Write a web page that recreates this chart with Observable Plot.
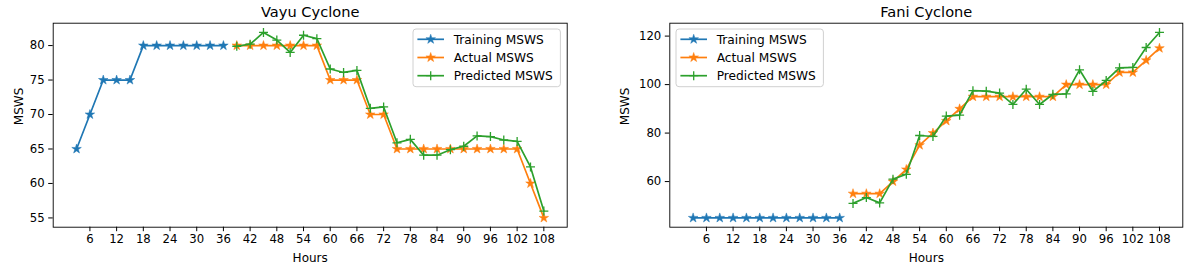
<!DOCTYPE html>
<html><head><meta charset="utf-8">
<script src="https://cdn.jsdelivr.net/npm/d3@7"></script>
<script src="https://cdn.jsdelivr.net/npm/@observablehq/plot@0.6"></script>
<style>
body{margin:0;background:#fff;}
#wrap{position:relative;width:1196px;height:270px;font-family:"DejaVu Sans",sans-serif;}
#wrap > svg{position:absolute;top:0;}
</style></head><body><div id="wrap"></div><script>
// ---- data ----
const hoursTrain = [3,6,9,12,15,18,21,24,27,30,33,36];
const hoursTest = [39,42,45,48,51,54,57,60,63,66,69,72,75,78,81,84,87,90,93,96,99,102,105,108];

const vayuTraining = [65,70,75,75,75,80,80,80,80,80,80,80];
const vayuActual = [80,80,80,80,80,80,80,75,75,75,70,70,65,65,65,65,65,65,65,65,65,65,60,55];
const vayuPredicted = [79.9,80.2,81.9,80.8,79.0,81.5,81.0,76.6,76.1,76.4,70.9,71.1,65.9,66.4,64.1,64.1,64.9,65.4,66.9,66.8,66.3,66.1,62.4,56.0];

const faniTraining = [45,45,45,45,45,45,45,45,45,45,45,45];
const faniActual = [55,55,55,60,65,75,80,85,90,95,95,95,95,95,95,95,100,100,100,100,105,105,110,115];
const faniPredicted = [51.0,53.4,51.2,61.0,63.0,79.0,78.6,87.0,87.4,97.5,97.3,96.5,91.8,98.1,91.8,96.0,96.2,106.1,97.2,101.7,106.9,107.1,115.3,121.5];

const xTicks = [6,12,18,24,30,36,42,48,54,60,66,72,78,84,90,96,102,108];
const vayuYTicks = [55,60,65,70,75,80];
const faniYTicks = [60,80,100,120];

const seriesNames = ["Training MSWS","Actual MSWS","Predicted MSWS"];
const seriesColors = ["#1f77b4","#ff7f0e","#2ca02c"];
const seriesSymbols = ["star","star","plus"];

// thin matplotlib-like "+" marker
const thinPlus = {
  draw(context, size) {
    const r = Math.sqrt(size / Math.PI);
    context.moveTo(-r, 0); context.lineTo(r, 0);
    context.moveTo(0, -r); context.lineTo(0, r);
  }
};

function padDomain(vals) {
  const [a, b] = d3.extent(vals);
  const m = (b - a) * 0.05;
  return [a - m, b + m];
}

function panel({title, train, actual, pred, yTicks, width, ml, mr, ylabDx}) {
  const trainData = hoursTrain.map((h, i) => ({h, v: train[i]}));
  const actualData = hoursTest.map((h, i) => ({h, v: actual[i]}));
  const predData = hoursTest.map((h, i) => ({h, v: pred[i]}));
  const xDomain = padDomain(hoursTrain.concat(hoursTest));
  const yDomain = padDomain(train.concat(actual, pred));
  return Plot.plot({
    width, height: 270,
    marginLeft: ml, marginRight: mr, marginTop: 22.7, marginBottom: 43.3,
    style: {fontFamily: "DejaVu Sans", fontSize: "11.7px", color: "#000", background: "transparent"},
    x: {domain: xDomain},
    y: {domain: yDomain},
    marks: [
      Plot.axisX({ticks: xTicks, tickSize: 4.5, tickPadding: 3, label: null}),
      Plot.axisY({ticks: yTicks, tickSize: 4.5, tickPadding: 4, label: null}),
      Plot.line(trainData, {x: "h", y: "v", stroke: seriesColors[0], strokeWidth: 1.7}),
      Plot.dot(trainData, {x: "h", y: "v", symbol: "star", r: 3, fill: seriesColors[0], stroke: seriesColors[0], strokeWidth: 0.5}),
      Plot.line(actualData, {x: "h", y: "v", stroke: seriesColors[1], strokeWidth: 1.7}),
      Plot.dot(actualData, {x: "h", y: "v", symbol: "star", r: 3, fill: seriesColors[1], stroke: seriesColors[1], strokeWidth: 0.5}),
      Plot.line(predData, {x: "h", y: "v", stroke: seriesColors[2], strokeWidth: 1.7}),
      Plot.dot(predData, {x: "h", y: "v", symbol: thinPlus, r: 4.5, fill: "none", stroke: seriesColors[2], strokeWidth: 1.3}),
      Plot.frame({stroke: "#000", strokeWidth: 0.9}),
      Plot.text([title], {frameAnchor: "top", lineAnchor: "middle", dy: -10.9, fontSize: 14.6}),
      Plot.text(["Hours"], {frameAnchor: "bottom", lineAnchor: "middle", dy: 30.6, fontSize: 12}),
      Plot.text(["MSWS"], {frameAnchor: "left", rotate: -90, dx: ylabDx, fontSize: 12})
    ]
  });
}

function legend(left, top) {
  const w = 147.4, h = 57.7;
  const svg = d3.create("svg").attr("width", w + 2).attr("height", h + 2)
    .style("left", (left - 1) + "px").style("top", (top - 1) + "px");
  svg.append("rect").attr("x", 1).attr("y", 1).attr("width", w).attr("height", h)
    .attr("rx", 3).attr("fill", "rgba(255,255,255,0.8)").attr("stroke", "#d0d0d0").attr("stroke-width", 1);
  seriesNames.forEach((name, i) => {
    const cy = 1 + 10.3 + i * 18.2;
    const g = svg.append("g");
    g.append("line").attr("x1", 5.4).attr("x2", 32).attr("y1", cy).attr("y2", cy)
      .attr("stroke", seriesColors[i]).attr("stroke-width", 1.7);
    if (seriesSymbols[i] === "star") {
      g.append("path").attr("d", d3.symbol(d3.symbolStar, Math.PI * 9)())
        .attr("transform", `translate(18.7,${cy})`)
        .attr("fill", seriesColors[i]).attr("stroke", seriesColors[i]).attr("stroke-width", 0.5);
    } else {
      g.append("path").attr("d", "M-4.5,0H4.5M0,-4.5V4.5")
        .attr("transform", `translate(18.7,${cy})`)
        .attr("fill", "none").attr("stroke", seriesColors[i]).attr("stroke-width", 1.3);
    }
    g.append("text").attr("x", 41.7).attr("y", cy).attr("dy", "0.35em")
      .attr("font-family", "DejaVu Sans").attr("font-size", 12.2).attr("fill", "#000").text(name);
  });
  return svg.node();
}

const wrap = document.getElementById("wrap");
const left = panel({title: "Vayu Cyclone", train: vayuTraining, actual: vayuActual, pred: vayuPredicted,
  yTicks: vayuYTicks, width: 598, ml: 52.7, mr: 31.3, ylabDx: -34.4});
left.style.left = "0px";
wrap.appendChild(left);
const right = panel({title: "Fani Cyclone", train: faniTraining, actual: faniActual, pred: faniPredicted,
  yTicks: faniYTicks, width: 598, ml: 71.3, mr: 13.7, ylabDx: -44.3});
right.style.left = "598px";
wrap.appendChild(right);
wrap.appendChild(legend(413.3, 29));
wrap.appendChild(legend(676, 29));
</script></body></html>
